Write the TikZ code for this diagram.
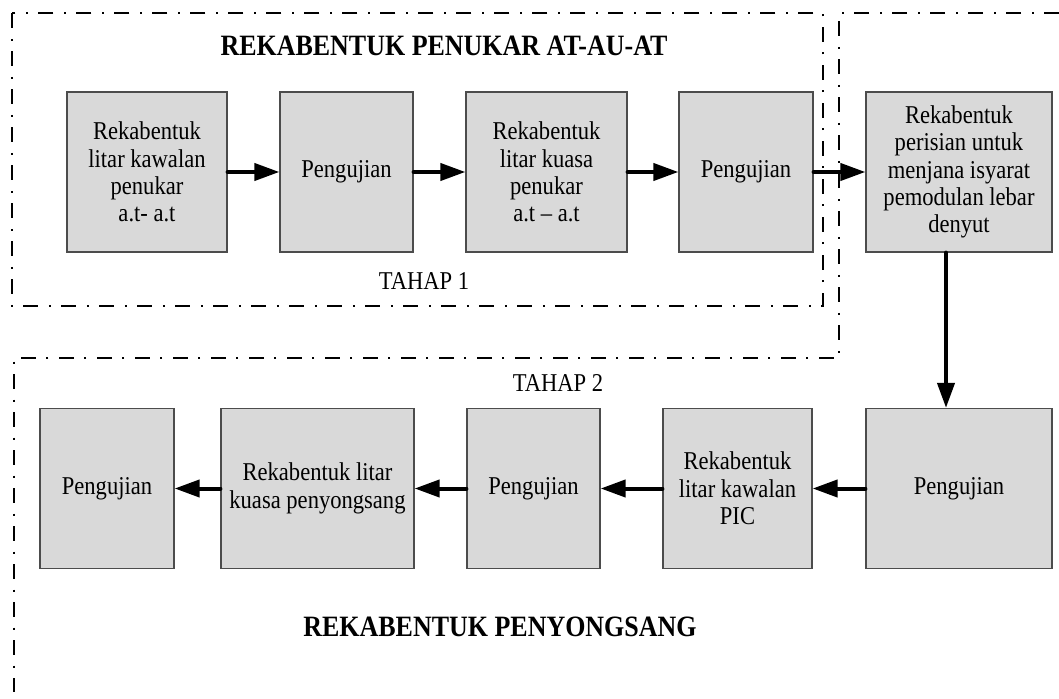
\documentclass[tikz,border=0pt]{standalone}
\usepackage{fontspec}
\setmainfont{Liberation Serif}[FakeStretch=0.88]
\usetikzlibrary{arrows.meta}
\tikzset{
  stagebox/.style={draw=black!70, fill=black!15, line width=0.025cm,
    align=center, minimum height=3.2cm, inner sep=2pt,
    font=\fontsize{14.6}{15.6}\selectfont},
  flowarrow/.style={line width=0.08cm, line cap=round,
    -{Triangle[length=0.5cm,width=0.34cm]}},
  stageframe/.style={line width=0.04cm,
    dash pattern=on 0.3cm off 0.21cm on 0.04cm off 0.21cm}
}

\begin{document}
\begin{tikzpicture}[x=0.02cm, y=-0.02cm]
  \useasboundingbox (0,0) rectangle (1059,699);

  % Stage frames
  \draw[stageframe] (12,13.5) rectangle (823,306);
  \draw[stageframe] (1059,13.5) -- (839,13.5) -- (839,358) -- (14,358) -- (14,692);

  % Titles
  \node[font=\fontsize{16.8}{18}\selectfont\bfseries] (titlea) at (444,46) {REKABENTUK PENUKAR AT-AU-AT};
  \node[font=\fontsize{14.6}{15.6}\selectfont] (tahapa) at (424,281) {TAHAP 1};
  \node[font=\fontsize{14.6}{15.6}\selectfont] (tahapb) at (558,383) {TAHAP 2};
  \node[font=\fontsize{16.8}{18}\selectfont\bfseries] (titleb) at (500,627) {REKABENTUK PENYONGSANG};

  % First row of boxes
  \node[stagebox, minimum width=3.2cm] (boxa) at (147,172) {Rekabentuk\\litar kawalan\\penukar\\ a.t- a.t};
  \node[stagebox, minimum width=2.66cm] (boxb) at (346.5,172) {Pengujian};
  \node[stagebox, minimum width=3.22cm] (boxc) at (546.5,172) {Rekabentuk\\litar kuasa\\penukar\\a.t -- a.t};
  \node[stagebox, minimum width=2.68cm] (boxd) at (746,172) {Pengujian};
  \node[stagebox, minimum width=3.72cm] (boxe) at (959,172) {Rekabentuk\\perisian untuk\\menjana isyarat\\pemodulan lebar\\denyut};

  % Second row of boxes
  \node[stagebox, minimum width=3.72cm] (boxf) at (959,488.5) {Pengujian};
  \node[stagebox, minimum width=2.98cm] (boxg) at (737.5,488.5) {Rekabentuk\\litar kawalan\\PIC};
  \node[stagebox, minimum width=2.66cm] (boxh) at (533.5,488.5) {Pengujian};
  \node[stagebox, minimum width=3.86cm] (boxi) at (317.5,488.5) {Rekabentuk litar\\kuasa penyongsang};
  \node[stagebox, minimum width=2.68cm] (boxj) at (107,488.5) {Pengujian};

  % Arrows
  \draw[flowarrow] (boxa.east) -- (boxb.west);
  \draw[flowarrow] (boxb.east) -- (boxc.west);
  \draw[flowarrow] (boxc.east) -- (boxd.west);
  \draw[flowarrow] (boxd.east) -- (boxe.west);
  \draw[flowarrow] ([xshift=-0.26cm]boxe.south) -- ([xshift=-0.26cm]boxf.north);
  \draw[flowarrow] (boxf.west) -- (boxg.east);
  \draw[flowarrow] (boxg.west) -- (boxh.east);
  \draw[flowarrow] (boxh.west) -- (boxi.east);
  \draw[flowarrow] (boxi.west) -- (boxj.east);

\end{tikzpicture}
\end{document}
